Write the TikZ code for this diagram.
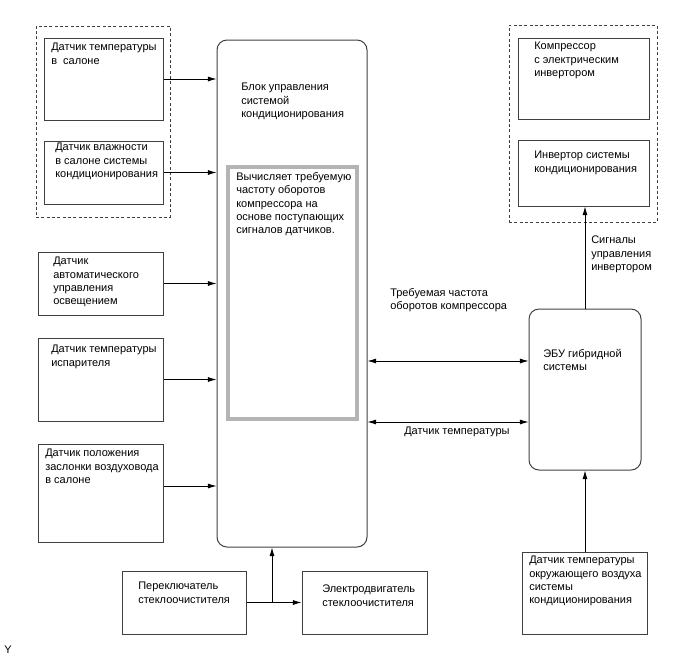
\documentclass[tikz,border=0pt]{standalone}
\usepackage{fontspec}
\setmainfont{Liberation Sans}
\usepackage{tikz}
\usetikzlibrary{fit,arrows.meta}

\definecolor{lncol}{RGB}{64,64,64}
\definecolor{calccol}{RGB}{180,180,180}

\tikzset{
  box/.style={draw=lncol, line width=0.75pt, inner sep=0pt},
  rbox/.style={box, rounded corners=7.5pt},
  grp/.style={draw=lncol, line width=0.75pt, dashed, dash pattern=on 2.2pt off 1.8pt, inner sep=0pt},
  calcbox/.style={draw=calccol, line width=2.4pt, inner sep=0pt},
  txt/.style={anchor=north west, inner sep=0pt, align=left, font=\fontsize{8.25pt}{10pt}\selectfont},
  arr/.style={draw=black, line width=0.6pt, -{Latex[length=6.5pt,width=3.8pt]}},
  darr/.style={draw=black, line width=0.6pt, {Latex[length=6.5pt,width=3.8pt]}-{Latex[length=6.5pt,width=3.8pt]}},
}

\begin{document}
\begin{tikzpicture}[x=0.75pt,y=0.75pt,yscale=-1,xscale=1]
\useasboundingbox (0,0) rectangle (688,658);

%Shape: dashed groups
\node [grp, fit={(36,26) (170,217)}] (grpl) {};
\node [grp, fit={(509,25) (657,222)}] (grpr) {};

%Shape: sensor boxes (left)
\node [box, fit={(44,38) (163,120)}] (tsalon) {};
\node [box, fit={(44,141) (163,204)}] (humid) {};
\node [box, fit={(38,252) (163,315)}] (light) {};
\node [box, fit={(38,338) (163,421)}] (evap) {};
\node [box, fit={(38,444) (163,542)}] (flap) {};

%Shape: control block
\node [rbox, fit={(217,40) (367,547)}] (main) {};
\node [calcbox, fit={(228,167) (357,419)}] (calc) {};

%Shape: wiper boxes
\node [box, fit={(122,571) (246,634)}] (wsw) {};
\node [box, fit={(302,571) (427,634)}] (wmot) {};

%Shape: right side
\node [box, fit={(518,38) (649,119)}] (comp) {};
\node [box, fit={(518,140) (649,206)}] (inv) {};
\node [rbox, fit={(529,309) (641,470)}] (ecu) {};
\node [box, fit={(522,552) (647,634)}] (amb) {};

%Straight Lines
\draw [arr] (tsalon.east) -- (main.west |- tsalon.east);
\draw [arr] (humid.east) -- (main.west |- humid.east);
\draw [arr] (light.east) -- (main.west |- light.east);
\draw [arr] (evap.east) -- (main.west |- evap.east);
\draw [arr] (flap.east |- 0,486) -- (main.west |- 0,486);
\draw [darr] (main.east |- 0,361) -- (ecu.west |- 0,361);
\draw [darr] (main.east |- 0,422) -- (ecu.west |- 0,422);
\draw [arr] (ecu.north) -- (inv.south -| ecu.north);
\draw [arr] (amb.north -| ecu.south) -- (ecu.south);
\coordinate (jn) at (272,602);
\draw [arr] (wsw.east) -- (wmot.west);
\draw [arr] (jn) -- (main.south -| jn);

% Text Node
\node [txt] (ttsalon) at (51,43) {Датчик температуры\\в\ \ салоне};
% Text Node
\node [txt] (thumid) at (55,143) {Датчик влажности\\в салоне системы\\кондиционирования};
% Text Node
\node [txt] (tlight) at (53,257) {Датчик\\автоматического\\управления\\освещением};
% Text Node
\node [txt] (tevap) at (51,345) {Датчик температуры\\испарителя};
% Text Node
\node [txt] (tflap) at (45,449) {Датчик положения\\заслонки воздуховода\\в салоне};
% Text Node
\node [txt] (tmain) at (241,83) {Блок управления\\системой\\кондиционирования};
% Text Node
\node [txt] (tcalc) at (236,172) {Вычисляет требуемую\\частоту оборотов\\компрессора на\\основе поступающих\\сигналов датчиков.};
% Text Node
\node [txt] (twsw) at (138,582) {Переключатель\\стеклоочистителя};
% Text Node
\node [txt] (twmot) at (322,585) {Электродвигатель\\стеклоочистителя};
% Text Node
\node [txt] (tcomp) at (534,42) {Компрессор\\с электрическим\\инвертором};
% Text Node
\node [txt] (tinv) at (534,151) {Инвертор системы\\кондиционирования};
% Text Node
\node [txt] (tecu) at (543,349) {ЭБУ гибридной\\системы};
% Text Node
\node [txt] (tamb) at (529,556) {Датчик температуры\\окружающего воздуха\\системы\\кондиционирования};
% Text Node
\node [txt] (tsig) at (591,236) {Сигналы\\управления\\инвертором};
% Text Node
\node [txt] (tfreq) at (390,288) {Требуемая частота\\оборотов компрессора};
% Text Node
\node [txt] (ttemp) at (404,427) {Датчик температуры};
% Text Node
\node [txt] (ty) at (4,646) {Y};

\end{tikzpicture}
\end{document}
